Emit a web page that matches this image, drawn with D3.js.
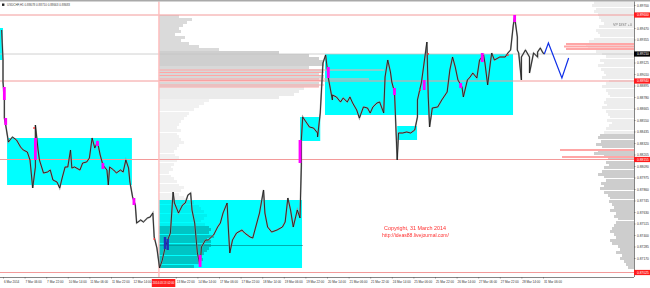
<!DOCTYPE html>
<html>
<head>
<meta charset="utf-8">
<script src="https://cdn.jsdelivr.net/npm/d3@7"></script>
<style>
  html, body { margin: 0; padding: 0; background: #fff; }
  #canvas { width: 650px; height: 288px; overflow: hidden; }
  text { font-family: "Liberation Sans", Arial, sans-serif; }
</style>
</head>
<body>
<div id="canvas"></div>
<script>
const canvas = document.getElementById('canvas');
const w = 650, h = 288;
const plotRight = 634, plotBottom = 277;

// ---- data ----
const symbolTitle = "USDCHF,H1  0.88678 0.88710 0.88663 0.88683";
const barsPerTick = 16;
const xTickLabels = ["6 Mar 2014", "7 Mar 06:00", "7 Mar 22:00", "10 Mar 14:00", "11 Mar 06:00",
  "11 Mar 22:00", "12 Mar 14:00", "13 Mar 06:00", "13 Mar 22:00", "14 Mar 14:00", "17 Mar 06:00",
  "17 Mar 22:00", "18 Mar 14:00", "19 Mar 06:00", "19 Mar 22:00", "20 Mar 14:00", "21 Mar 06:00",
  "21 Mar 22:00", "24 Mar 14:00", "25 Mar 06:00", "25 Mar 22:00", "26 Mar 14:00", "27 Mar 06:00",
  "27 Mar 22:00", "28 Mar 14:00", "31 Mar 06:00"];
const yTickLabels = [0.89700, 0.89585, 0.89470, 0.89355, 0.89240, 0.89125, 0.89010, 0.88895,
  0.88780, 0.88665, 0.88550, 0.88435, 0.88320, 0.88205, 0.88090, 0.87975, 0.87860, 0.87745,
  0.87630, 0.87515, 0.87400, 0.87285, 0.87170, 0.87055];

// [bar, price]
const priceTrack = [
  [-1, 0.8945], [0, 0.8915], [0, 0.8893], [1, 0.8875], [1, 0.8857], [2, 0.8850], [4, 0.8833],
  [7, 0.8838], [10, 0.8835], [13, 0.8828], [15, 0.8825], [18, 0.8823], [20, 0.8815], [22, 0.8787],
  [24, 0.8808], [24, 0.8850], [26, 0.8825], [27, 0.8815], [30, 0.8802], [33, 0.8803], [35, 0.8805],
  [37, 0.8795], [40, 0.8793], [42, 0.8787], [44, 0.8798], [46, 0.8808], [48, 0.8808], [50, 0.8825],
  [51, 0.8807], [53, 0.8808], [57, 0.8805], [59, 0.8812], [62, 0.8813], [64, 0.8817], [66, 0.8837],
  [68, 0.8827], [70, 0.8833], [72, 0.8820], [74, 0.8810], [77, 0.8805], [78, 0.8790], [79, 0.8808],
  [82, 0.8805], [84, 0.8802], [87, 0.8805], [89, 0.8803], [91, 0.8815], [93, 0.8807], [94, 0.8793],
  [96, 0.8778], [98, 0.8770], [99, 0.8752], [102, 0.8755], [104, 0.8753], [107, 0.8757], [109, 0.8758],
  [111, 0.8762], [112, 0.8738], [114, 0.8727], [116, 0.8707], [118, 0.8715], [120, 0.8727],
  [122, 0.8735], [124, 0.8742], [126, 0.8783], [127, 0.8772], [130, 0.8762], [133, 0.8770],
  [135, 0.8772], [137, 0.8780], [139, 0.8782], [140, 0.8765], [142, 0.8752], [144, 0.8722],
  [146, 0.8709], [147, 0.8728], [150, 0.8735], [152, 0.8735], [156, 0.8740], [159, 0.8748],
  [161, 0.8752], [163, 0.8762], [166, 0.8772], [167, 0.8745], [168, 0.8722], [170, 0.8735],
  [173, 0.8742], [177, 0.8745], [179, 0.8742], [183, 0.8738], [185, 0.8737], [188, 0.8752],
  [190, 0.8762], [193, 0.8785], [194, 0.8762], [196, 0.8748], [199, 0.8743], [203, 0.8745],
  [207, 0.8748], [209, 0.8753], [211, 0.8777], [213, 0.8765], [215, 0.8748], [218, 0.8765],
  [220, 0.8757], [221, 0.8810], [221, 0.8835], [222, 0.8858], [225, 0.8852], [227, 0.8848],
  [230, 0.8847], [233, 0.8842], [233, 0.8838], [235, 0.8862], [237, 0.8912], [239, 0.8920],
  [241, 0.8897], [244, 0.8875], [244, 0.8880], [247, 0.8878], [250, 0.8873], [252, 0.8877],
  [255, 0.8873], [257, 0.8878], [259, 0.8872], [262, 0.8865], [264, 0.8857], [267, 0.8868],
  [270, 0.8867], [272, 0.8862], [274, 0.8868], [277, 0.8872], [279, 0.8873], [282, 0.8862],
  [283, 0.8898], [285, 0.8915], [287, 0.8903], [288, 0.8893], [290, 0.8883], [292, 0.8815],
  [293, 0.8842], [296, 0.8842], [299, 0.8843], [302, 0.8842], [305, 0.8845], [307, 0.8858],
  [307, 0.8875], [310, 0.8893], [314, 0.8933], [315, 0.8878], [316, 0.8848], [318, 0.8867],
  [322, 0.8868], [325, 0.8875], [329, 0.8883], [331, 0.8905], [333, 0.8918], [335, 0.8908],
  [337, 0.8895], [340, 0.8888], [341, 0.8878], [344, 0.8895], [346, 0.8898], [348, 0.8902],
  [351, 0.8897], [353, 0.8915], [356, 0.8920], [357, 0.8912], [359, 0.8890], [361, 0.8912],
  [362, 0.8922], [364, 0.8915], [368, 0.8918], [372, 0.8918], [374, 0.8922], [376, 0.8925],
  [378, 0.8950], [379, 0.8958], [380, 0.8948], [381, 0.8938], [381, 0.8925], [382, 0.8922],
  [384, 0.8895], [384, 0.8918], [387, 0.8925], [390, 0.8918], [390, 0.8902], [393, 0.8922],
  [396, 0.8918], [396, 0.8923], [398, 0.8927], [400, 0.8922], [401, 0.8921]
];
const forecastPath = [[401, 0.8921], [404, 0.8932], [414, 0.8897], [419, 0.8917]];

// [bar, open, close]
const magentaCandles = [
  [1, 0.8888, 0.8875], [2, 0.8857, 0.8850], [24, 0.8837, 0.8815], [70, 0.8834, 0.8829],
  [74, 0.8812, 0.8806], [97, 0.8777, 0.8770], [146, 0.8720, 0.8708], [220, 0.8835, 0.8812],
  [241, 0.8908, 0.8897], [290, 0.8887, 0.8880], [312, 0.8895, 0.8885], [339, 0.8892, 0.8887],
  [355, 0.8922, 0.8913], [379, 0.8960, 0.8953]
];
const blueCandles = [[120, 0.8738, 0.8726], [122, 0.8736, 0.8725]];
const redDots = [[23, 0.8847], [112, 0.8736], [315, 0.8921], [309, 0.8885], [374, 0.8920]];

// [bar from, bar to, price top, price bottom]
const boxes = [
  [-3, 0, 0.8947, 0.8915], [3, 95.5, 0.8837, 0.8790], [115.5, 221.5, 0.8775, 0.8707],
  [220, 235, 0.8858, 0.8834], [238.5, 377.8, 0.8921, 0.8860], [292, 306.7, 0.8849, 0.8835]
];

const redLevels = [0.8960, 0.8894, 0.88155, 0.87025];
const currentPrice = 0.8921;
const markerBar = 115.5;
const markerLabel = { bar: 110, text: "2014.03.13 02:00" };

// volume profiles, one value per price step
const profileStep = 0.0003;
const leftProfileTop = 0.8958;
const leftProfile = [20, 33, 28, 24, 20, 22, 16, 26, 22, 30, 40, 60, 120, 150, 160, 165, 165, 150,
  165, 160, 165, 160, 160, 160, 145, 140, 135, 120, 50, 45, 40, 35, 30, 28, 25, 22, 20, 18, 22, 18,
  20, 22, 25, 20, 18, 15, 16, 20, 18, 15, 12, 14, 10, 12, 15, 18, 20, 25, 22, 20, 25, 30, 35, 40,
  42, 45, 48, 45, 42, 46, 50, 52, 50, 55, 48, 52, 52, 50, 48, 45, 42, 44, 40, 35];
const leftPinkRows = [[0.8905, 225], [0.89025, 165], [0.88995, 165], [0.8896, 210], [0.88945, 165],
  [0.8890, 165], [0.8888, 160]];
const leftPoc = [0.8730, 144];
const rightProfileTop = 0.8972;
const rightProfile = [40, 42, 38, 40, 36, 35, 33, 30, 35, 38, 36, 34, 40, 45, 48, 46, 38, 32, 28, 34,
  30, 36, 33, 30, 28, 32, 25, 28, 32, 28, 26, 24, 28, 30, 27, 32, 28, 26, 24, 27, 22, 25, 28, 30,
  34, 36, 33, 38, 32, 36, 40, 30, 26, 28, 25, 30, 32, 36, 30, 28, 33, 30, 34, 30, 26, 24, 25, 22,
  20, 24, 18, 20, 16, 18, 20, 22, 24, 20, 18, 24, 22, 16, 14, 18, 12, 14, 10, 8, 6];
const rightPinkRows = [[0.8931, 68], [0.89285, 70], [0.8926, 68], [0.8825, 74], [0.8818, 72]];

// ---- scales ----
const x = d3.scaleLinear().domain([0, 470]).range([3, 3 + 470 * 1.35]);
const y = d3.scaleLinear().domain([0.8975, 0.8705]).range([0, 270]);
const vol = d3.scaleLinear().domain([0, 100]).range([0, 100]);

let svg = d3.select("#canvas")
  .append("svg")
    .attr("width", w)
    .attr("height", h)
    .attr("viewBox", [0, 0, w, h]);

svg.append("rect").attr("width", w).attr("height", h).attr("fill", "#fff");

svg.append("clipPath").attr("id", "plot")
  .append("rect").attr("x", 0).attr("y", 1.5).attr("width", plotRight).attr("height", plotBottom - 1.5);

const g = svg.append("g").attr("clip-path", "url(#plot)");

function leftShade(p) {
  if (p > 0.8923) return "#dadada";
  if (p > 0.8907) return "#cfcfcf";
  if (p > 0.8887) return "#d8d8d8";
  if (p > 0.8875) return "#ebebeb";
  if (p > 0.8748) return "#f1f1f1";
  return "#c4c4c4";
}

function draw() {
  // cyan boxes
  g.selectAll("rect.box")
    .data(boxes)
    .enter().append("rect")
      .attr("class", "box")
      .attr("x", d => x(d[0]))
      .attr("y", d => y(d[2]))
      .attr("width", d => x(d[1]) - x(d[0]))
      .attr("height", d => y(d[3]) - y(d[2]))
      .attr("fill", "#0ff");

  // left volume profile
  const stepPx = y(0) - y(profileStep);
  const gl = g.append("g").style("mix-blend-mode", "multiply").attr("shape-rendering", "crispEdges");
  gl.selectAll("rect")
    .data(leftProfile)
    .enter().append("rect")
      .attr("x", x(markerBar))
      .attr("y", (d, i) => Math.round(y(leftProfileTop - i * profileStep) - stepPx / 2))
      .attr("width", d => vol(d))
      .attr("height", Math.round(stepPx))
      .attr("fill", (d, i) => leftShade(leftProfileTop - i * profileStep));
  gl.append("line")
    .attr("x1", x(markerBar)).attr("x2", x(markerBar) + vol(leftPoc[1]))
    .attr("y1", y(leftPoc[0])).attr("y2", y(leftPoc[0]))
    .attr("stroke", "#9a9a9a").attr("stroke-width", 0.8);

  // right volume profile
  g.append("g").attr("shape-rendering", "crispEdges").selectAll("rect")
    .data(rightProfile)
    .enter().append("rect")
      .attr("x", d => plotRight - vol(d))
      .attr("y", (d, i) => Math.round(y(rightProfileTop - i * profileStep) - stepPx / 2))
      .attr("width", d => vol(d))
      .attr("height", Math.round(stepPx))
      .attr("fill", (d, i) => (rightProfileTop - i * profileStep) > 0.8840 ? "#ededed" : "#cdcdcd");

  g.selectAll("line.pinkL")
    .data(leftPinkRows)
    .enter().append("line")
      .attr("class", "pinkL")
      .attr("x1", x(markerBar)).attr("x2", d => x(markerBar) + vol(d[1]))
      .attr("y1", d => y(d[0])).attr("y2", d => y(d[0]))
      .attr("stroke", "#ffa6a6").attr("stroke-width", 1.2);
  g.selectAll("line.pinkR")
    .data(rightPinkRows)
    .enter().append("line")
      .attr("class", "pinkR")
      .attr("x1", d => plotRight - vol(d[1])).attr("x2", plotRight)
      .attr("y1", d => y(d[0])).attr("y2", d => y(d[0]))
      .attr("stroke", "#ffa6a6").attr("stroke-width", 1.8);

  // levels
  g.append("line")
    .attr("x1", 0).attr("x2", plotRight)
    .attr("y1", y(currentPrice)).attr("y2", y(currentPrice))
    .attr("stroke", "#c4c4c4").attr("stroke-width", 0.8);
  g.selectAll("line.lvl")
    .data(redLevels)
    .enter().append("line")
      .attr("class", "lvl")
      .attr("x1", 0).attr("x2", plotRight)
      .attr("y1", d => y(d)).attr("y2", d => y(d))
      .attr("stroke", "#f39a9a").attr("stroke-width", 1);
  g.append("line")
    .attr("x1", x(markerBar)).attr("x2", x(markerBar))
    .attr("y1", 0).attr("y2", plotBottom)
    .attr("stroke", "#ffbcbc").attr("stroke-width", 1.4);

  // price
  const line = d3.line().x(d => x(d[0])).y(d => y(d[1]));
  g.append("path")
    .datum(priceTrack)
    .attr("d", line)
    .attr("fill", "none")
    .attr("stroke", "#9a9a9a")
    .attr("stroke-width", 1.6);
  g.append("path")
    .datum(priceTrack)
    .attr("d", line)
    .attr("fill", "none")
    .attr("stroke", "#141414")
    .attr("stroke-width", 0.8);

  g.selectAll("rect.mag")
    .data(magentaCandles)
    .enter().append("rect")
      .attr("class", "mag")
      .attr("x", d => x(d[0]) - 1.4)
      .attr("y", d => y(Math.max(d[1], d[2])))
      .attr("width", 2.8)
      .attr("height", d => Math.abs(y(d[1]) - y(d[2])))
      .attr("fill", "#f0f");
  g.selectAll("rect.blu")
    .data(blueCandles)
    .enter().append("rect")
      .attr("class", "blu")
      .attr("x", d => x(d[0]) - 1.2)
      .attr("y", d => y(Math.max(d[1], d[2])))
      .attr("width", 2.4)
      .attr("height", d => Math.abs(y(d[1]) - y(d[2])))
      .attr("fill", "#1f2fb8");
  g.selectAll("circle")
    .data(redDots)
    .enter().append("circle")
      .attr("cx", d => x(d[0]))
      .attr("cy", d => y(d[1]))
      .attr("r", 0.9)
      .attr("fill", "#ff3b3b");

  g.append("path")
    .datum(forecastPath)
    .attr("d", line)
    .attr("fill", "none")
    .attr("stroke", "#1030e8")
    .attr("stroke-width", 1.2);

  // texts inside chart
  g.append("text").attr("x", 613).attr("y", 26).attr("font-size", 3.6).attr("fill", "#777")
    .text("VP DIST +0");
  g.append("text").attr("x", 384).attr("y", 230).attr("font-size", 5).attr("fill", "#ff3030")
    .attr("textLength", 62).attr("lengthAdjust", "spacingAndGlyphs")
    .text("Copyright, 31 March 2014");
  g.append("text").attr("x", 382).attr("y", 237).attr("font-size", 4.6).attr("fill", "#ff3030")
    .attr("textLength", 67).attr("lengthAdjust", "spacingAndGlyphs")
    .text("http://ideas88.livejournal.com/");

  // frame
  svg.append("rect").attr("x", 0).attr("y", 0).attr("width", w).attr("height", 1.5).attr("fill", "#a9a9a9");
  svg.append("line").attr("x1", plotRight + 0.5).attr("x2", plotRight + 0.5).attr("y1", 1.5).attr("y2", plotBottom)
    .attr("stroke", "#666").attr("stroke-width", 0.8);
  svg.append("line").attr("x1", 0).attr("x2", plotRight).attr("y1", plotBottom + 0.5).attr("y2", plotBottom + 0.5)
    .attr("stroke", "#666").attr("stroke-width", 0.8);

  svg.append("rect").attr("x", 2).attr("y", 3.5).attr("width", 2.4).attr("height", 2.4).attr("fill", "#222");
  svg.append("text").attr("x", 7).attr("y", 6).attr("font-size", 3).attr("fill", "#444")
    .attr("textLength", 63).attr("lengthAdjust", "spacingAndGlyphs")
    .text(symbolTitle);

  // price axis, ticks hidden under the price tags like the terminal does
  const tags = redLevels.map(p => ({ p: p, bg: "#ff1c1c" })).concat([{ p: currentPrice, bg: "#000" }]);
  const shownTicks = yTickLabels.filter(t => tags.every(d => Math.abs(y(t) - y(d.p)) > 3.2));
  const yAxis = d3.axisRight(y)
    .tickValues(shownTicks)
    .tickSize(1.5)
    .tickPadding(1.5)
    .tickFormat(d3.format(".5f"));
  const gY = svg.append("g")
    .attr("transform", "translate(" + plotRight + ",0)")
    .call(yAxis);
  gY.select(".domain").remove();
  gY.selectAll("line").attr("stroke", "#555").attr("stroke-width", 0.6);
  gY.selectAll("text").attr("font-size", 3.3).attr("fill", "#333")
    .attr("font-family", "Liberation Sans, Arial, sans-serif");

  const gt = svg.selectAll("g.tag")
    .data(tags)
    .enter().append("g")
      .attr("class", "tag")
      .attr("transform", d => "translate(" + plotRight + "," + y(d.p) + ")");
  gt.append("rect").attr("x", 0).attr("y", -2.6).attr("width", 16).attr("height", 5.2).attr("fill", d => d.bg);
  gt.append("text").attr("x", 3).attr("y", 1.2).attr("font-size", 3.3).attr("fill", "#fff")
    .text(d => d3.format(".5f")(d.p));

  // time axis, only the label hidden under the marker tag is dropped
  const mx = x(markerLabel.bar);
  const mw = 23.5;
  const shownBars = xTickLabels.map((d, i) => i * barsPerTick)
    .filter(b => x(b) < mx - 18 || x(b) > mx + mw - 0.5);
  const xAxis = d3.axisBottom(x)
    .tickValues(shownBars)
    .tickSize(1.5)
    .tickPadding(2.5)
    .tickFormat(b => xTickLabels[b / barsPerTick]);
  const gX = svg.append("g")
    .attr("transform", "translate(0," + plotBottom + ")")
    .call(xAxis);
  gX.select(".domain").remove();
  gX.selectAll("line").attr("stroke", "#555").attr("stroke-width", 0.6);
  gX.selectAll("text").attr("font-size", 3.05).attr("fill", "#333")
    .attr("text-anchor", "start").attr("dx", "0.4")
    .attr("font-family", "Liberation Sans, Arial, sans-serif");

  svg.append("rect").attr("x", mx + 0.3).attr("y", plotBottom + 2).attr("width", mw).attr("height", 8).attr("fill", "#ff1c1c");
  svg.append("text").attr("x", mx + 1.3).attr("y", plotBottom + 7.3).attr("font-size", 3.3).attr("fill", "#fff")
    .attr("textLength", mw - 2).attr("lengthAdjust", "spacingAndGlyphs")
    .text(markerLabel.text);
}

draw();
</script>
</body>
</html>
